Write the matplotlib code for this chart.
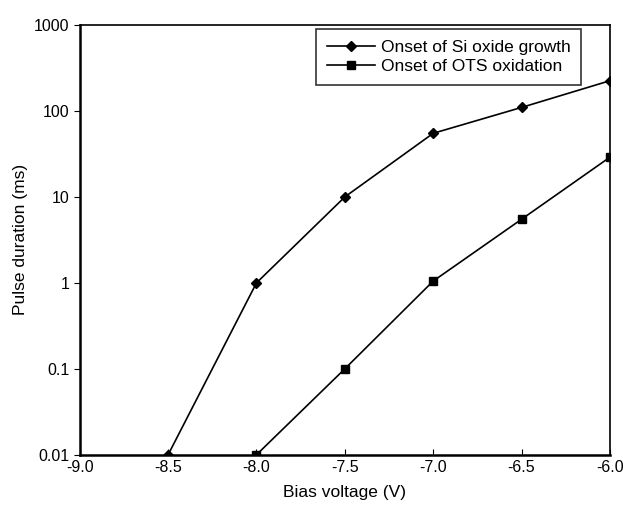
import matplotlib
matplotlib.use("Agg")
import matplotlib.pyplot as plt

plt.rcParams['font.family'] = ['Liberation Sans', 'DejaVu Sans']

x_si = [-8.5, -8.0, -7.5, -7.0, -6.5, -6.0]
y_si = [0.01, 1, 10, 55, 110, 225]
x_ots = [-8.0, -7.5, -7.0, -6.5, -6.0]
y_ots = [0.01, 0.1, 1.05, 5.5, 29]
xticks = [-9.0, -8.5, -8.0, -7.5, -7.0, -6.5, -6.0]
yticks = [0.01, 0.1, 1, 10, 100, 1000]
ytick_labels = ['0.01', '0.1', '1', '10', '100', '1000']

fig = plt.figure(figsize=(6.23, 5.11), dpi=100)
ax = fig.add_axes([0.128, 0.110, 0.851, 0.841])
ax.plot(x_si, y_si, color='black', marker='D', markersize=5.5, lw=1.2,
        label='Onset of Si oxide growth')
ax.plot(x_ots, y_ots, color='black', marker='s', markersize=5.5, lw=1.2,
        label='Onset of OTS oxidation')
ax.set_yscale('log')
ax.set_xlim(-9.0, -6.0)
ax.set_ylim(0.01, 1000)
ax.set_xticks(xticks)
ax.set_xticklabels([f'{v:.1f}' for v in xticks])
ax.set_yticks(yticks)
ax.set_yticklabels(ytick_labels)
ax.minorticks_off()
ax.tick_params(axis='x', direction='in', length=4, labelsize=11.5, pad=4)
ax.tick_params(axis='y', direction='out', length=4, labelsize=11.5)
for s in ax.spines.values():
    s.set_linewidth(1.2)
ax.spines['left'].set_linewidth(1.8)
ax.spines['bottom'].set_linewidth(1.8)
ax.set_xlabel('Bias voltage (V)', fontsize=12.5, labelpad=7)
ax.set_ylabel('Pulse duration (ms)', fontsize=12.5, labelpad=4)
leg = ax.legend(loc='upper right', bbox_to_anchor=(0.945, 0.99), fontsize=12.5,
                frameon=True, fancybox=False, edgecolor='black',
                handlelength=2.8, borderpad=0.6, labelspacing=0.25,
                handletextpad=0.3, borderaxespad=0)
leg.get_frame().set_linewidth(1.2)
fig.savefig('out.png', dpi=100)
